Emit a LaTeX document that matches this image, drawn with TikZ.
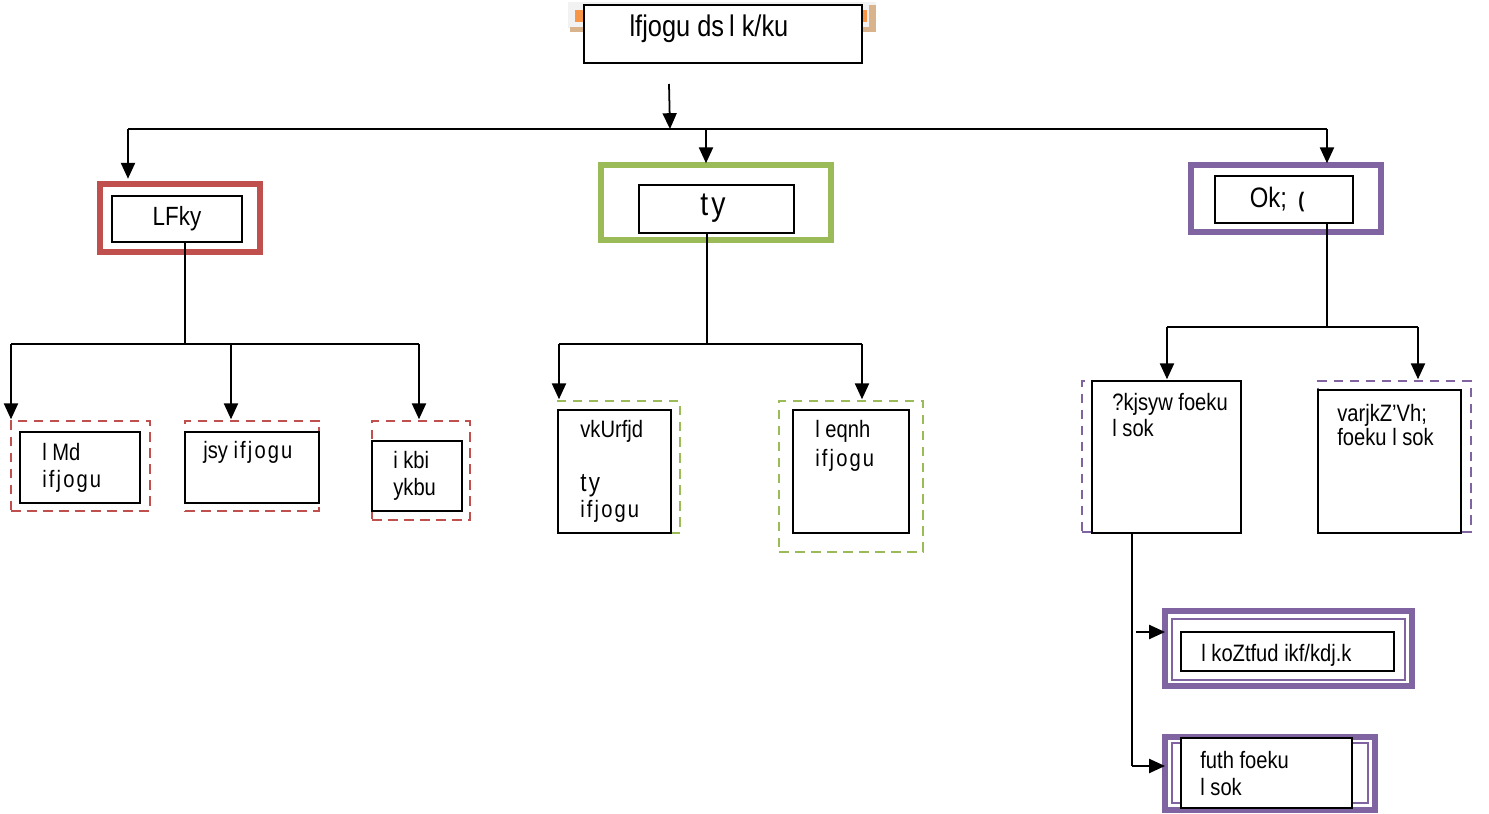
\documentclass[tikz,border=0pt]{standalone}
\usepackage{fontspec}
\setmainfont{Liberation Sans}[FakeStretch=0.85]
\newfontfamily\spaced{Liberation Sans}[FakeStretch=0.85, LetterSpace=9]
\usetikzlibrary{fit,arrows.meta}

\definecolor{landred}{HTML}{C0504D}
\definecolor{watergreen}{HTML}{9BBB59}
\definecolor{airpurple}{HTML}{8064A2}
\definecolor{tabgray}{HTML}{F2F2F2}
\definecolor{taborange}{HTML}{F79646}
\definecolor{tabtan}{HTML}{D9B38C}

\tikzset{
  area/.style={inner sep=0pt, outer sep=0pt},
  blackbox/.style={area, draw=black, fill=white, line width=1.1pt},
  frame/.style={area, draw=#1, line width=3.6pt},
  thinframe/.style={area, draw=#1, line width=1.1pt},
  dashbox/.style={area, draw=#1, line width=1.6pt, dash pattern=on 5.5pt off 3.6pt},
  conn/.style={draw=black, line width=1pt},
  arr/.style={conn, -{Triangle[length=9pt,width=8pt]}},
  lbl/.style={anchor=base west, inner sep=0pt, font=\fontsize{13.5}{15}\selectfont},
  headtxt/.style={inner sep=0pt, font=\fontsize{15}{18}\selectfont},
}

\begin{document}
\begin{tikzpicture}[x=0.02cm, y=-0.02cm]
\useasboundingbox (0,0) rectangle (1489,814);

% tab behind the title box
\fill[tabgray] (568,2) rectangle (876,28);
\fill[taborange] (575,10) rectangle (584,22);
\fill[taborange] (862,10) rectangle (867,22);
\fill[tabtan] (570,27) rectangle (584,32);
\fill[tabtan] (869,5) rectangle (876,32);
\fill[tabtan] (862,27) rectangle (876,32);

% title
\node[blackbox, fit={(584,5) (862,63)}] (title) {};
\node[headtxt, font=\fontsize{17}{20}\selectfont] (titletxt) at (709,29) {lfjogu ds\,l k/ku};

% first level frames
\node[frame=landred, fit={(100,184) (260,252)}] (land) {};
\node[blackbox, fit={(112,196) (242,242)}] (landin) {};
\node[headtxt] (landtxt) at (landin.center) {LFky};

\node[frame=watergreen, fit={(601,165) (831,240)}] (water) {};
\node[blackbox, fit={(639,185) (794,233)}] (waterin) {};
\node[headtxt, font=\fontsize{19}{22}\selectfont\spaced] (watertxt) at (713,208) {ty};

\node[frame=airpurple, fit={(1191,165) (1381,232)}] (air) {};
\node[blackbox, fit={(1215,176) (1353,223)}] (airin) {};
\node[headtxt, font=\fontsize{16}{19}\selectfont] (airtxt) at (1277,200) {Ok;\, {\fontsize{12}{14}\selectfont\bfseries(}};

% land modes
\node[dashbox=landred, fit={(11,421) (150,511)}] (road) {};
\node[blackbox, fit={(20,432) (140,503)}] (roadin) {};
\node[lbl] (roadt1) at (42,460) {l Md};
\node[lbl] (roadt2) at (42,487) {\spaced ifjogu};

\node[dashbox=landred, fit={(185,421) (319,511)}] (rail) {};
\node[blackbox, fit={(185,432) (319,503)}] (railin) {};
\node[lbl] (railt1) at (203,459) {jsy {\spaced ifjogu}};

\node[dashbox=landred, fit={(372,421) (470,520)}] (pipe) {};
\node[blackbox, fit={(372,441) (462,511)}] (pipein) {};
\node[lbl] (pipet1) at (393,469) {i kbi};
\node[lbl] (pipet2) at (393,496) {ykbu};

% water modes
\node[dashbox=watergreen, fit={(558,401) (680,533)}] (inland) {};
\node[blackbox, fit={(558,410) (671,533)}] (inlandin) {};
\node[lbl] (inlandt1) at (580,438) {vkUrfjd};
\node[lbl] (inlandt2) at (580,492) {\fontsize{15}{17}\selectfont\spaced ty};
\node[lbl] (inlandt3) at (580,518) {\spaced ifjogu};

\node[dashbox=watergreen, fit={(779,401) (923,552)}] (sea) {};
\node[blackbox, fit={(793,410) (909,533)}] (seain) {};
\node[lbl] (seat1) at (815,438) {l eqnh};
\node[lbl] (seat2) at (815,466) {\spaced ifjogu};

% air modes
\node[dashbox=airpurple, fit={(1082,381) (1240,532)}] (dom) {};
\node[blackbox, fit={(1092,381) (1241,533)}] (domin) {};
\node[lbl] (domt1) at (1112,411) {?kjsyw foeku};
\node[lbl] (domt2) at (1112,437) {l sok};

\node[dashbox=airpurple, fit={(1318,381) (1471,532)}] (intl) {};
\node[blackbox, fit={(1318,390) (1461,533)}] (intlin) {};
\node[lbl] (intlt1) at (1337,421) {varjkZ'Vh;};
\node[lbl] (intlt2) at (1337,446) {foeku l sok};

% air sub-sectors
\node[frame=airpurple, fit={(1165,611) (1412,686)}] (pub) {};
\node[thinframe=airpurple, fit={(1172,619) (1405,680)}] (pubmid) {};
\node[blackbox, fit={(1181,632) (1394,671)}] (pubin) {};
\node[lbl] (pubt) at (1201,661) {l koZtfud ikf/kdj.k};

\node[frame=airpurple, fit={(1165,737) (1375,810)}] (priv) {};
\node[thinframe=airpurple, fit={(1172,743) (1368,803)}] (privmid) {};
\node[blackbox, fit={(1181,738) (1352,808)}] (privin) {};
\node[lbl] (privt1) at (1200,768) {futh foeku};
\node[lbl] (privt2) at (1200,795) {l sok};

% connectors: title to first level
\coordinate (tstart) at (669,84);
\coordinate (tbus) at (670,129);
\coordinate (busL) at (128,129);
\coordinate (busM) at (706,129);
\coordinate (busR) at (1327,129);
\draw[arr] (tstart) -- (tbus);
\draw[conn] (busL) -- (busR);
\draw[arr, shorten >=3pt] (busL) -- (busL |- land.north);
\draw[arr, shorten >=1pt] (busM) -- (busM |- water.north);
\draw[arr, shorten >=1pt] (busR) -- (busR |- air.north);

% land branches
\coordinate (lstem) at (185,242);
\coordinate (lbus) at (185,344);
\coordinate (lbusA) at (11,344);
\coordinate (lbusB) at (231,344);
\coordinate (lbusC) at (419,344);
\draw[conn] (lstem) -- (lbus);
\draw[conn] (lbusA) -- (lbusC);
\draw[arr, shorten >=1pt] (lbusA) -- (lbusA |- road.north);
\draw[arr, shorten >=1pt] (lbusB) -- (lbusB |- rail.north);
\draw[arr, shorten >=1pt] (lbusC) -- (lbusC |- pipe.north);

% water branches
\coordinate (wstem) at (707,233);
\coordinate (wbus) at (707,344);
\coordinate (wbusA) at (559,344);
\coordinate (wbusB) at (862,344);
\draw[conn] (wstem) -- (wbus);
\draw[conn] (wbusA) -- (wbusB);
\draw[arr, shorten >=1pt] (wbusA) -- (wbusA |- inland.north);
\draw[arr, shorten >=1pt] (wbusB) -- (wbusB |- sea.north);

% air branches
\coordinate (astem) at (1327,223);
\coordinate (abus) at (1327,327);
\coordinate (abusA) at (1167,327);
\coordinate (abusB) at (1418,327);
\draw[conn] (astem) -- (abus);
\draw[conn] (abusA) -- (abusB);
\draw[arr, shorten >=1pt] (abusA) -- (abusA |- dom.north);
\draw[arr, shorten >=1pt] (abusB) -- (abusB |- intl.north);

% domestic service to its sectors
\coordinate (dstem) at (1132,533);
\coordinate (dlow) at (1132,766);
\coordinate (dpub) at (1136,632);
\draw[conn] (dstem) -- (dlow);
\draw[arr] (dpub) -- (dpub -| pub.west);
\draw[arr] (dlow) -- (dlow -| priv.west);
\end{tikzpicture}
\end{document}
